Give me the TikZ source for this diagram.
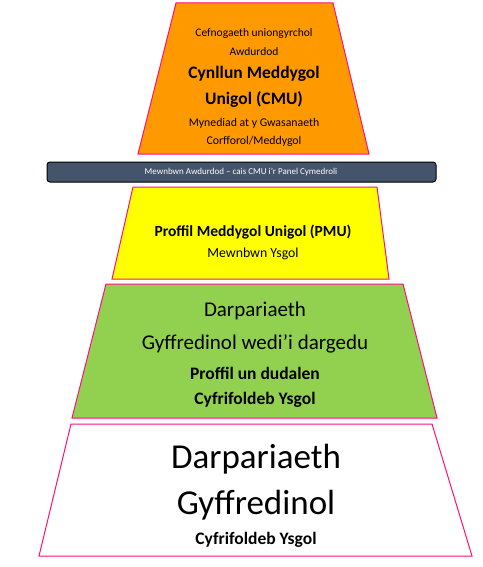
\documentclass[tikz,border=0pt]{standalone}
\usepackage{fontspec}
\setmainfont{Carlito}

\definecolor{tierpink}{HTML}{FF0F7B}
\definecolor{tierorange}{HTML}{FF9900}
\definecolor{tieryellow}{HTML}{FFFF00}
\definecolor{tiergreen}{HTML}{92D050}
\definecolor{barslate}{HTML}{44546A}

\begin{document}
\begin{tikzpicture}[x=1pt, y=-1pt, line join=miter,
  tier/.style={draw=tierpink, line width=1pt},
  lbl/.style={anchor=center, inner sep=0pt, text=black},
  fsz/.style={font=\fontsize{#1}{#1}\selectfont},
  fbs/.style={font=\fontsize{#1}{#1}\selectfont\bfseries}]

  %% ==== tiers (top to bottom) ====
  \draw[tier, fill=tierorange] (176,3) -- (333,3) -- (369,154) -- (138,154) -- cycle;
  \draw[black, line width=1pt, fill=barslate, rounded corners=3pt] (47,162) rectangle (436,182);
  \draw[tier, fill=tieryellow] (133,187) -- (377,187) -- (389,279) -- (112,279) -- cycle;
  \draw[tier, fill=tiergreen] (106,284) -- (403,284) -- (437,418) -- (72,418) -- cycle;
  \draw[tier, fill=white] (71,424) -- (432,424) -- (472,556) -- (39,556) -- cycle;

  %% ==== labels ====
  \node[lbl, fsz=11.5] (cefn) at (254,33) {Cefnogaeth uniongyrchol};
  \node[lbl, fsz=11.5] (awd) at (254,52) {Awdurdod};
  \node[lbl, fbs=17.5] (cmu1) at (254,74) {Cynllun Meddygol};
  \node[lbl, fbs=17.5] (cmu2) at (254,99) {Unigol (CMU)};
  \node[lbl, fsz=11.8] (myn) at (254,123) {Mynediad at y Gwasanaeth};
  \node[lbl, fsz=11.8] (corff) at (254,141) {Corfforol/Meddygol};

  \node[lbl, fsz=9, text=white] (bar) at (241,172) {Mewnbwn Awdurdod – cais CMU i’r Panel Cymedroli};

  \node[lbl, fbs=15.5] (pmu) at (253,232) {Proffil Meddygol Unigol (PMU)};
  \node[lbl, fsz=13.8] (mewn) at (253,254) {Mewnbwn Ysgol};

  \node[lbl, fsz=21] (darp1) at (255,311) {Darpariaeth};
  \node[lbl, fsz=21] (gyff1) at (255,344) {Gyffredinol wedi’i dargedu};
  \node[lbl, fbs=17.5] (proff) at (255,373) {Proffil un dudalen};
  \node[lbl, fbs=17.5] (cyf1) at (255,400) {Cyfrifoldeb Ysgol};

  \node[lbl, fsz=35] (darp2) at (256,459) {Darpariaeth};
  \node[lbl, fsz=35] (gyff2) at (256,505) {Gyffredinol};
  \node[lbl, fbs=17.5] (cyf2) at (256,540) {Cyfrifoldeb Ysgol};

  % fix canvas to reference size
  \pgfresetboundingbox
  \path[use as bounding box] (0,0) rectangle (482,567);
\end{tikzpicture}
\end{document}
